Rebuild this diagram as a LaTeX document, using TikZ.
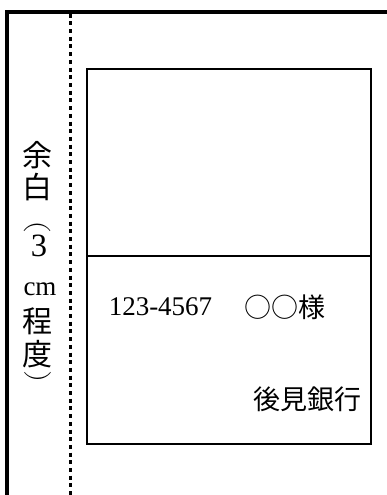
\documentclass[tikz,border=0pt]{standalone}
\usepackage{fontspec}
\setmainfont{Liberation Serif}
\newfontfamily\jp{Noto Sans CJK JP}
\font\arcfont=cmmi10 at 30pt
\begin{document}
\begin{tikzpicture}[x=1pt,y=-1pt,
  frame/.style={line width=4pt, line join=miter},
  marginline/.style={line width=3pt, dash pattern=on 4pt off 3.7pt},
  boxline/.style={line width=2pt},
  vch/.style={inner sep=0pt, font=\jp\fontsize{30}{30}\selectfont},
  vlat/.style={inner sep=0pt},
  vparen/.style={inner sep=0pt, anchor=base, font=\arcfont},
  jtxt/.style={inner sep=0pt, font=\jp\fontsize{27}{27}\selectfont},
  ltxt/.style={inner sep=0pt, font=\fontsize{27}{27}\selectfont}]
\useasboundingbox (0,0) rectangle (387,495);
% outer frame
\coordinate (fbl) at (7,500);
\coordinate (ftl) at (7,11.7);
\coordinate (ftr) at (392,11.7);
\draw[frame] (fbl) -- (ftl) -- (ftr);
% margin line
\coordinate (mt) at (70,13.7);
\coordinate (mb) at (70,497);
\draw[marginline] (mt) -- (mb);
% envelope box
\node[draw, boxline, inner sep=0pt, minimum width=284pt, minimum height=375pt] (env) at (229,256.5) {};
\coordinate (dl) at (87,256);
\coordinate (dr) at (371,256);
\draw[boxline] (dl) -- (dr);
% address text
\node[ltxt] (zip) at (160.5,306.5) {123-4567};
\node[jtxt] (name) at (285,307) {○○様};
\node[jtxt] (bank) at (307.5,399.5) {後見銀行};
% vertical margin note
\node[vch] (v1) at (38,155) {余};
\node[vch] (v2) at (38,187) {白};
\node[vparen] (v3) at (37,235) {\char"5F};
\node[vlat, font=\fontsize{32.5}{32.5}\selectfont] (v4) at (39,246) {3};
\node[vlat, font=\fontsize{27}{27}\selectfont] (v5) at (40,289) {cm};
\node[vch] (v6) at (38,321.5) {程};
\node[vch] (v7) at (38,354) {度};
\node[vparen] (v8) at (37.5,383.5) {\char"5E};
\end{tikzpicture}
\end{document}
